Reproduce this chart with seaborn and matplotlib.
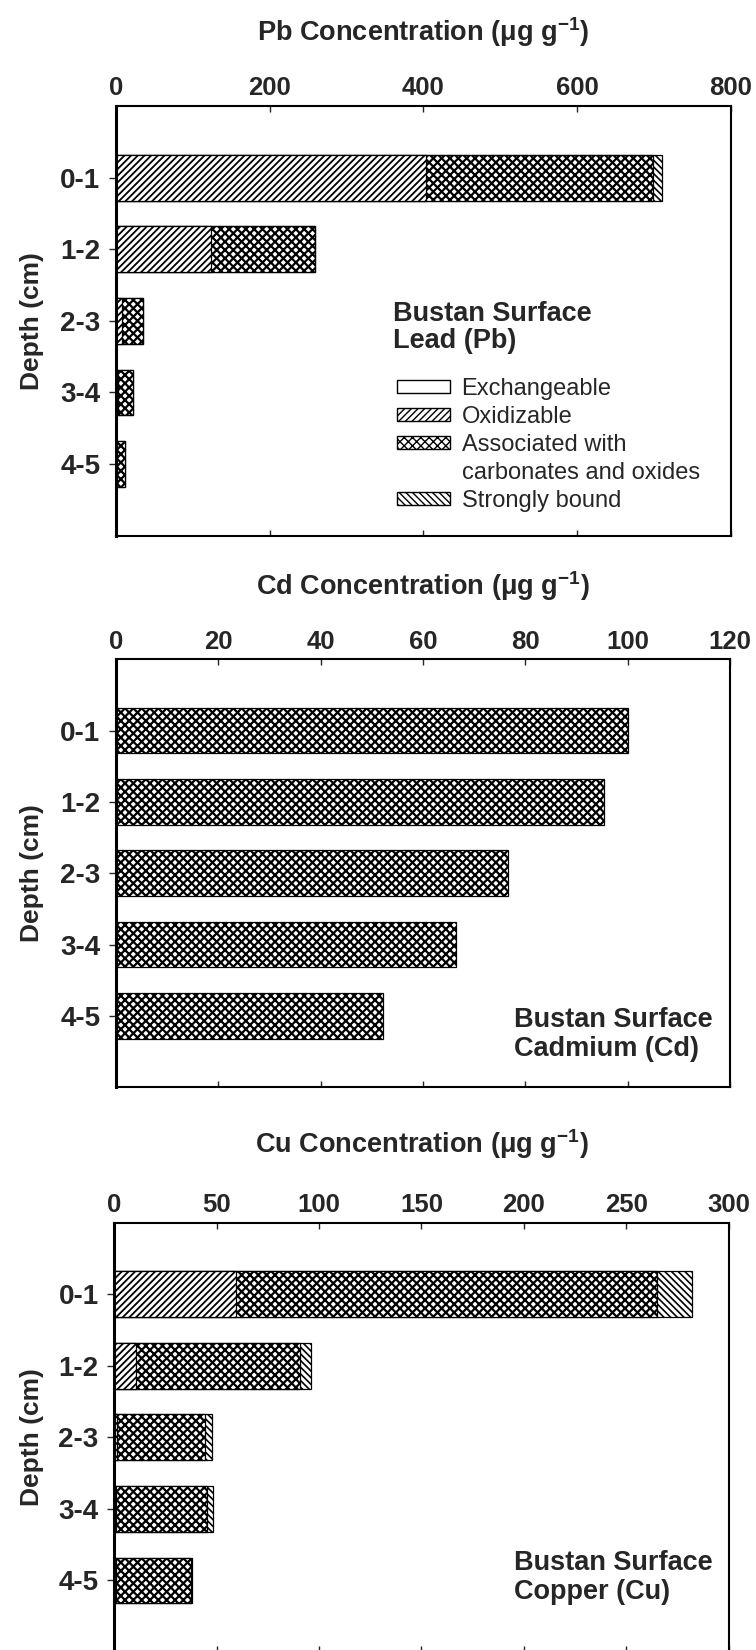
import matplotlib
matplotlib.use("Agg")
import matplotlib.pyplot as plt
from matplotlib.patches import Patch
import seaborn as sns
import pandas as pd
import numpy as np

# ---- data (µg g-1) ----
depths = ["0-1", "1-2", "2-3", "3-4", "4-5"]

pb_exchangeable = [0.0, 0.0, 0.0, 0.0, 0.0]
pb_oxidizable = [403.0, 123.0, 8.0, 3.0, 1.0]
pb_carbonates = [296.0, 136.0, 27.5, 19.5, 10.7]
pb_strong = [12.0, 0.0, 0.0, 0.0, 0.0]

cd_carbonates = [100.0, 95.4, 76.7, 66.5, 52.2]

cu_exchangeable = [0.0, 0.0, 0.0, 0.0, 0.0]
cu_oxidizable = [59.4, 10.4, 1.4, 0.8, 0.8]
cu_carbonates = [205.7, 80.5, 42.8, 44.3, 36.7]
cu_strong = [17.2, 5.3, 3.4, 2.9, 0.6]

pb_ticks = [0, 200, 400, 600, 800]
cd_ticks = [0, 20, 40, 60, 80, 100, 120]
cu_ticks = [0, 50, 100, 150, 200, 250, 300]

legend_labels = ["Exchangeable", "Oxidizable", "Associated with",
                 "carbonates and oxides", "Strongly bound"]

# ---- style ----
sns.set_theme(style="white")
plt.rcParams["font.family"] = ["Liberation Sans", "DejaVu Sans"]
plt.rcParams["mathtext.fontset"] = "custom"
plt.rcParams["mathtext.rm"] = "Liberation Sans:bold"
plt.rcParams["mathtext.bf"] = "Liberation Sans:bold"
plt.rcParams["mathtext.it"] = "Liberation Sans:bold"
plt.rcParams["hatch.linewidth"] = 1.0

HATCH = {"Exchangeable": "", "Oxidizable": "/////",
         "Carbonates": "xxxx", "Strong": "\\\\\\\\\\"}
HATCH_LW = {"Exchangeable": 1.0, "Oxidizable": 1.3, "Carbonates": 1.6, "Strong": 1.2}
BAR_H = 0.64
EDGE_LW = 0.9

fig = plt.figure(figsize=(7.56, 16.5), dpi=100)
W, H = 756.0, 1650.0


def add_axes_px(left, right, top, bottom):
    return fig.add_axes([left / W, 1 - bottom / H, (right - left) / W, (bottom - top) / H])


def set_hatch_lw(patches, lw):
    for p in patches:
        if hasattr(p, "set_hatch_linewidth"):
            p.set_hatch_linewidth(lw)


def stacked(ax, parts):
    """Draw stacked horizontal bars as overlaid cumulative totals."""
    cum = np.cumsum(np.array([p[1] for p in parts], dtype=float), axis=0)
    # widest first, then narrower cumulative bars on top
    for i in range(len(parts) - 1, -1, -1):
        name = parts[i][0]
        df = pd.DataFrame({"depth": depths, "value": cum[i]})
        n_before = len(ax.patches)
        with plt.rc_context({"hatch.linewidth": HATCH_LW[name]}):
            sns.barplot(data=df, x="value", y="depth", order=depths, orient="h",
                        color="white", saturation=1, width=BAR_H,
                        edgecolor="black", linewidth=EDGE_LW,
                        hatch=HATCH[name], errorbar=None, ax=ax)
        set_hatch_lw(ax.patches[n_before:], HATCH_LW[name])


def style_axes(ax, ticks, title, title_y):
    ax.set_xlim(ticks[0], ticks[-1])
    ax.set_ylim(5, -1)
    ax.set_xticks(ticks)
    ax.set_yticks(range(len(depths)))
    ax.set_yticklabels(depths)
    ax.xaxis.tick_top()
    ax.tick_params(axis="x", which="both", direction="in", length=4.5, width=1.0,
                   top=True, bottom=True, labeltop=True, labelbottom=False,
                   pad=4, labelsize=18.5)
    ax.tick_params(axis="y", direction="out", length=4.8, width=1.0,
                   left=True, right=False, pad=6.5, labelsize=20)
    for lab in ax.get_xticklabels() + ax.get_yticklabels():
        lab.set_fontweight("bold")
    for s in ax.spines.values():
        s.set_visible(True)
        s.set_color("black")
        s.set_linewidth(1.5)
    ax.spines["left"].set_linewidth(2.2)
    ax.set_xlabel("")
    ax.set_ylabel("")
    ax.grid(False)
    ax.set_facecolor("white")
    cx = (ax.get_position().x0 + ax.get_position().x1) / 2
    fig.text(cx, 1 - title_y / H, title + " (μg g$^{-1}$)", ha="center", va="center",
             fontsize=19.5, fontweight="bold")
    cy = (ax.get_position().y0 + ax.get_position().y1) / 2
    fig.text(31.6 / W, cy, "Depth (cm)", rotation=90, ha="center", va="center",
             fontsize=19, fontweight="bold")


# ---- Pb panel ----
ax_pb = add_axes_px(116, 730.7, 106, 535.7)
stacked(ax_pb, [("Exchangeable", pb_exchangeable), ("Oxidizable", pb_oxidizable),
                ("Carbonates", pb_carbonates), ("Strong", pb_strong)])
style_axes(ax_pb, pb_ticks, "Pb Concentration", 32)
ax_pb.text(0.4501, 0.4843, "Bustan Surface\nLead (Pb)", transform=ax_pb.transAxes,
           ha="left", va="center", fontsize=19.5, fontweight="bold", linespacing=1.05)
handles = []
for name in ["Exchangeable", "Oxidizable", "Carbonates", None, "Strong"]:
    if name is None:
        handles.append(Patch(facecolor="none", edgecolor="none"))
    else:
        hp = Patch(facecolor="white", edgecolor="black", hatch=HATCH[name], lw=1)
        set_hatch_lw([hp], HATCH_LW[name])
        handles.append(hp)
ax_pb.legend(handles, legend_labels, loc="upper left", bbox_to_anchor=(0.4576, 0.367),
             frameon=False, fontsize=17, handlelength=2.25, handleheight=0.45,
             handletextpad=0.47, labelspacing=0.25, borderpad=0, borderaxespad=0)

# ---- Cd panel ----
ax_cd = add_axes_px(116, 730.0, 659.3, 1087.3)
stacked(ax_cd, [("Carbonates", cd_carbonates)])
style_axes(ax_cd, cd_ticks, "Cd Concentration", 586)
ax_cd.text(0.6475, 0.1245, "Bustan Surface\nCadmium (Cd)", transform=ax_cd.transAxes,
           ha="left", va="center", fontsize=19.5, fontweight="bold", linespacing=1.15)

# ---- Cu panel ----
ax_cu = add_axes_px(114.3, 728.5, 1222.7, 1652.0)
stacked(ax_cu, [("Exchangeable", cu_exchangeable), ("Oxidizable", cu_oxidizable),
                ("Carbonates", cu_carbonates), ("Strong", cu_strong)])
style_axes(ax_cu, cu_ticks, "Cu Concentration", 1144)
ax_cu.text(0.6502, 0.1747, "Bustan Surface\nCopper (Cu)", transform=ax_cu.transAxes,
           ha="left", va="center", fontsize=19.5, fontweight="bold", linespacing=1.15)

fig.savefig("out.png", dpi=100, facecolor="white")
